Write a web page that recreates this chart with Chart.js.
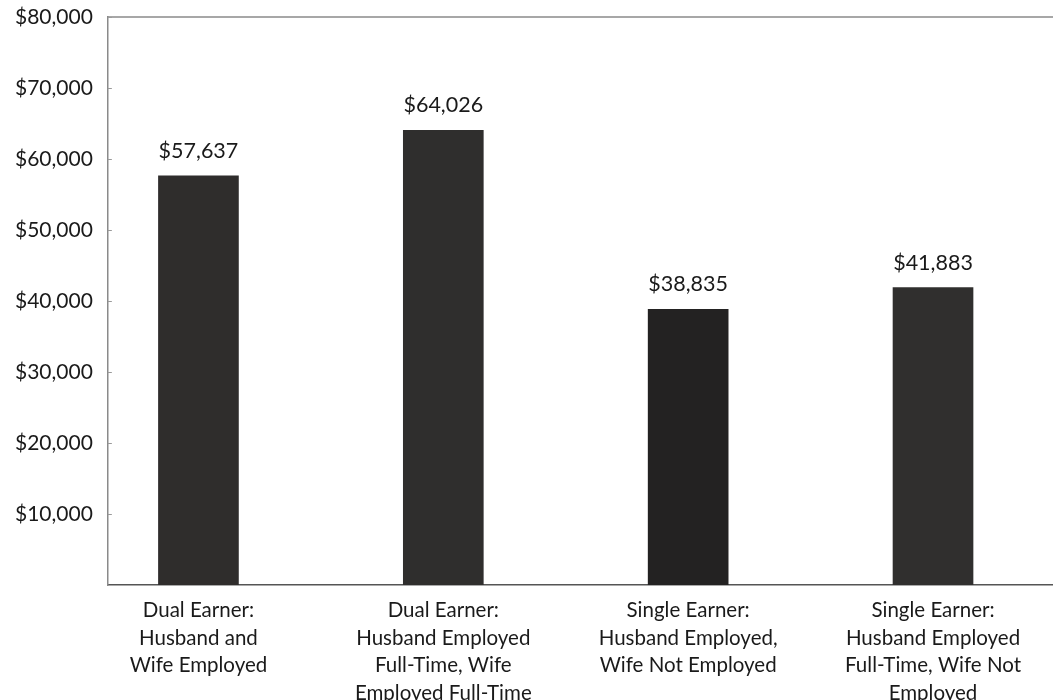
<!DOCTYPE html>
<html>
<head>
<meta charset="utf-8">
<script src="https://cdn.jsdelivr.net/npm/chart.js@4.4.1/dist/chart.umd.min.js"></script>
<style>
  html, body { margin: 0; padding: 0; background: #ffffff; }
  #wrap { width: 1053px; height: 700px; }
</style>
</head>
<body>
<div id="wrap"><canvas id="c" width="1053" height="700"></canvas></div>
<script>
// Median family income by earner type
const categories = [
  ['Dual Earner:', 'Husband and', 'Wife Employed'],
  ['Dual Earner:', 'Husband Employed', 'Full-Time, Wife', 'Employed Full-Time'],
  ['Single Earner:', 'Husband Employed,', 'Wife Not Employed'],
  ['Single Earner:', 'Husband Employed', 'Full-Time, Wife Not', 'Employed']
];
const incomes = [57637, 64026, 38835, 41883];
const barColors = ['#2f2d2c', '#2f2e2d', '#232222', '#302f2e'];
const yTicks = [10000, 20000, 30000, 40000, 50000, 60000, 70000, 80000];

const FONT = 'Lato, "Open Sans", sans-serif';
const money = v => '$' + v.toLocaleString('en-US');

// value labels above each bar
const valueLabels = {
  id: 'valueLabels',
  afterDatasetsDraw(chart) {
    const ctx = chart.ctx;
    const meta = chart.getDatasetMeta(0);
    ctx.save();
    ctx.fillStyle = '#1a1a1a';
    ctx.font = '21.5px ' + FONT;
    ctx.textAlign = 'center';
    ctx.textBaseline = 'middle';
    meta.data.forEach((bar, i) => {
      ctx.fillText(money(incomes[i]), bar.x, bar.y - 25);
    });
    ctx.restore();
  }
};

// frame: top rule and short inward tick marks on the value axis
const frame = {
  id: 'frame',
  afterDraw(chart) {
    const { ctx, chartArea: a } = chart;
    const y = chart.scales.y;
    ctx.save();
    ctx.strokeStyle = '#8a8a8a';
    ctx.lineWidth = 1.5;
    ctx.beginPath();
    ctx.moveTo(a.left, a.top);
    ctx.lineTo(a.right + 2, a.top);
    ctx.stroke();
    ctx.lineWidth = 1;
    ctx.strokeStyle = '#9a9a9a';
    yTicks.forEach(v => {
      const py = Math.round(y.getPixelForValue(v)) + 0.5;
      ctx.beginPath();
      ctx.moveTo(a.left, py);
      ctx.lineTo(a.left + 4, py);
      ctx.stroke();
    });
    ctx.restore();
  }
};

new Chart(document.getElementById('c'), {
  type: 'bar',
  data: {
    datasets: [{
      data: incomes.map((v, i) => ({ x: i, y: v })),
      backgroundColor: barColors,
      borderWidth: 0,
      barThickness: 80
    }]
  },
  options: {
    responsive: false,
    animation: false,
    layout: { padding: { top: 17, right: 0, left: 0, bottom: 0 } },
    plugins: {
      legend: { display: false },
      tooltip: { enabled: false }
    },
    scales: {
      x: {
        type: 'linear',
        min: -0.37,
        max: 3.49,
        offset: false,
        grid: { display: false, drawTicks: false },
        border: { display: true, color: '#555555', width: 1.5 },
        afterBuildTicks(scale) {
          scale.ticks = categories.map((c, i) => ({ value: i }));
        },
        afterFit(scale) { scale.height = 115; },
        ticks: {
          autoSkip: false,
          maxRotation: 0,
          padding: 12,
          color: '#1a1a1a',
          font: { family: FONT, size: 20.5, lineHeight: 1.34 },
          callback: v => categories[v] || ''
        }
      },
      y: {
        min: 0,
        max: 80000,
        afterBuildTicks(scale) {
          scale.ticks = [0].concat(yTicks).map(v => ({ value: v }));
        },
        afterFit(scale) { scale.paddingTop = 0; scale.paddingBottom = 0; },
        grid: { display: false, drawTicks: false },
        border: { display: true, color: '#8a8a8a', width: 1.5 },
        ticks: {
          padding: 15,
          color: '#1a1a1a',
          font: { family: FONT, size: 21 },
          callback: v => (v === 0 ? '' : money(v))
        }
      }
    }
  },
  plugins: [valueLabels, frame]
});
</script>
</body>
</html>
